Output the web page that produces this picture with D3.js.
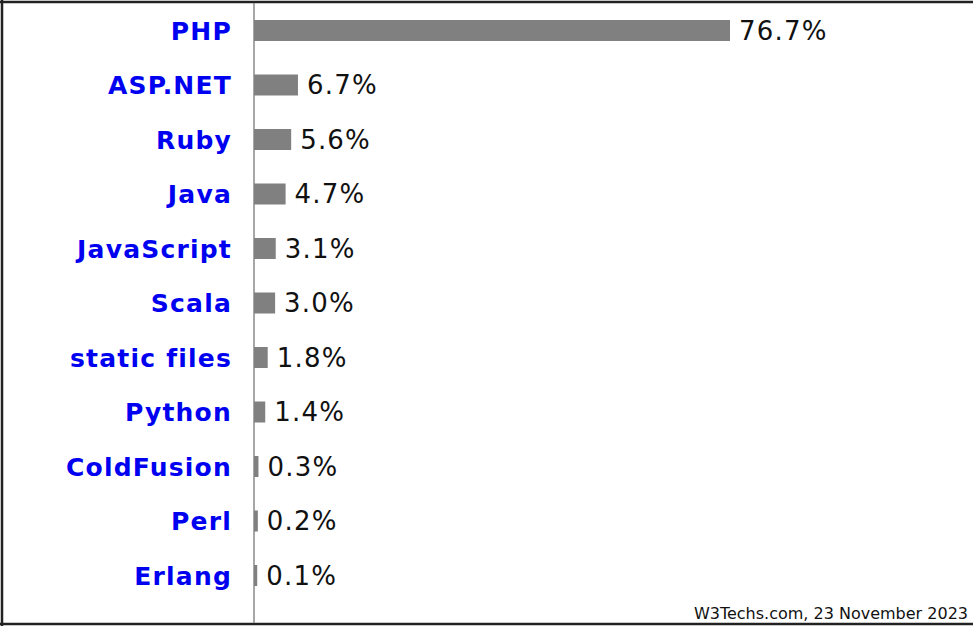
<!DOCTYPE html>
<html>
<head>
<meta charset="utf-8">
<script src="https://cdn.jsdelivr.net/npm/d3@7/dist/d3.min.js"></script>
<style>
html,body{margin:0;padding:0;background:#fff;}
svg{display:block;}
</style>
</head>
<body>
<script>
const categories = ["PHP","ASP.NET","Ruby","Java","JavaScript","Scala","static files","Python","ColdFusion","Perl","Erlang"];
const values = [76.7, 6.7, 5.6, 4.7, 3.1, 3.0, 1.8, 1.4, 0.3, 0.2, 0.1];
const valueLabels = ["76.7%","6.7%","5.6%","4.7%","3.1%","3.0%","1.8%","1.4%","0.3%","0.2%","0.1%"];
const footer = "W3Techs.com, 23 November 2023";

const W = 973, H = 627;
const svg = d3.select("body").append("svg").attr("width", W).attr("height", H);

const axisX = 254;
const x = d3.scaleLinear().domain([0, 76.7]).range([axisX + 2.6, 730]);
const y = d3.scaleBand().domain(categories).range([3.25, 602.75]).padding(0);
const barH = 21;

// borders
svg.append("line").attr("x1", 2).attr("x2", 2).attr("y1", 0).attr("y2", 626).attr("stroke", "#222").attr("stroke-width", 2.5);
svg.append("line").attr("x1", 0).attr("x2", W).attr("y1", 2).attr("y2", 2).attr("stroke", "#222").attr("stroke-width", 2.5);
svg.append("line").attr("x1", 0).attr("x2", W).attr("y1", 624).attr("y2", 624).attr("stroke", "#222").attr("stroke-width", 2.5);

// axis
svg.append("line").attr("x1", axisX).attr("x2", axisX).attr("y1", 3).attr("y2", 623).attr("stroke", "#8a8a8a").attr("stroke-width", 1.5);

const rows = categories.map((c, i) => ({c, v: values[i], l: valueLabels[i]}));

svg.selectAll("rect.bar").data(rows).enter().append("rect")
  .attr("class", "bar")
  .attr("x", axisX)
  .attr("y", d => y(d.c) + y.bandwidth() / 2 - barH / 2)
  .attr("width", d => x(d.v) - axisX)
  .attr("height", barH)
  .attr("fill", "#808080");

svg.selectAll("text.cat").data(rows).enter().append("text")
  .attr("class", "cat")
  .attr("x", 232)
  .attr("y", d => y(d.c) + y.bandwidth() / 2)
  .attr("dy", "0.36em")
  .attr("text-anchor", "end")
  .attr("font-family", "DejaVu Sans, Verdana, sans-serif")
  .attr("font-weight", "bold")
  .attr("font-size", 25)
  .attr("letter-spacing", 1.2)
  .attr("fill", "#0000f0")
  .text(d => d.c);

svg.selectAll("text.val").data(rows).enter().append("text")
  .attr("class", "val")
  .attr("x", d => x(d.v) + 9)
  .attr("y", d => y(d.c) + y.bandwidth() / 2)
  .attr("dy", "0.36em")
  .attr("font-family", "DejaVu Sans, Verdana, sans-serif")
  .attr("font-size", 26)
  .attr("letter-spacing", 1.2)
  .attr("fill", "#111")
  .text(d => d.l);

svg.append("text")
  .attr("x", 968).attr("y", 619)
  .attr("text-anchor", "end")
  .attr("font-family", "DejaVu Sans, Verdana, sans-serif")
  .attr("font-size", 16)
  .attr("fill", "#111")
  .text(footer);
</script>
</body>
</html>
